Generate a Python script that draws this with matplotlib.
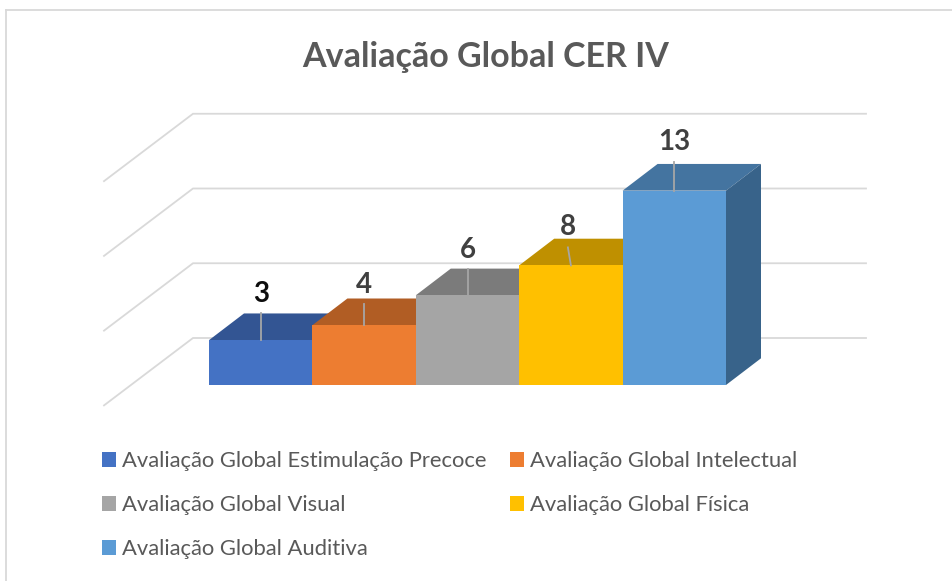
import matplotlib
matplotlib.use("Agg")
import matplotlib.pyplot as plt
from matplotlib.lines import Line2D

plt.rcParams['font.family'] = ['Lato', 'DejaVu Sans']

title = "Avaliação Global CER IV"
categories = ["Avaliação Global Estimulação Precoce", "Avaliação Global Intelectual",
              "Avaliação Global Visual", "Avaliação Global Física", "Avaliação Global Auditiva"]
values = [3, 4, 6, 8, 13]
value_labels = ["3", "4", "6", "8", "13"]
front_colors = ["#4472C4", "#ED7D31", "#A5A5A5", "#FFC000", "#5B9BD5"]
top_colors = ["#335593", "#B15D24", "#7B7B7B", "#BF9000", "#4474A0"]
side_colors = ["#2A4679", "#924D1E", "#666666", "#9E7700", "#38638A"]
label_colors = ["#0D0D0D", "#404040", "#404040", "#404040", "#404040"]
gridlines = [0, 5, 10, 15]

W, H = 953, 581
PX_X, PX_Y = 103.4, 14.95   # pixels per bar slot / per value unit
X0, Y0 = 209, 385           # pixel position of the front-left bar base

fig = plt.figure(figsize=(W / 100, H / 100), dpi=100)
ax = fig.add_axes([0, 0, 1, 1])
ax.set_xlim(-X0 / PX_X, (W - X0) / PX_X)
ax.set_ylim((Y0 - H) / PX_Y, Y0 / PX_Y)
ax.axis("off")

# depth of the bars and the walls, in data units
dx_bar, dy_bar = 35 / PX_X, 26.7 / PX_Y
wall_back_x = (193 - X0) / PX_X
wall_front_x = (104 - X0) / PX_X
wall_right_x = (866 - X0) / PX_X
wall_back_y = (Y0 - 338) / PX_Y
wall_front_y = (Y0 - 405.4) / PX_Y

grid_c = "#D9D9D9"
for g in gridlines:
    ax.plot([wall_front_x, wall_back_x, wall_right_x],
            [wall_front_y + g, wall_back_y + g, wall_back_y + g],
            color=grid_c, lw=1.3, zorder=1, solid_joinstyle="miter")

# bars
bars = []
for i, (v, cat) in enumerate(zip(values, categories)):
    z = 3 + i
    b = ax.bar(i, v, width=1.0, align="edge", color=front_colors[i], label=cat,
               zorder=z + 0.5, linewidth=0)
    bars.append(b)
    ax.fill([i, i + dx_bar, i + 1 + dx_bar, i + 1],
            [v, v + dy_bar, v + dy_bar, v], color=top_colors[i], lw=0, zorder=z)
    ax.fill([i + 1, i + 1 + dx_bar, i + 1 + dx_bar, i + 1],
            [0, dy_bar, v + dy_bar, v], color=side_colors[i], lw=0, zorder=z)

# data labels with leader lines (pixel offsets from bar top)
label_rise = [46, 40, 45, 38, 49]
leader_rise = [27, 21, 26, 18, 29]
label_dx = [0, 0, 0, -3, 0]
for i, v in enumerate(values):
    c = i + 0.5
    ax.plot([c, c + label_dx[i] / PX_X], [v, v + leader_rise[i] / PX_Y],
            color="#A6A6A6", lw=1.3, zorder=20)
    ax.text(c + label_dx[i] / PX_X, v + label_rise[i] / PX_Y, value_labels[i],
            ha="center", va="center", fontsize=20, fontweight="bold",
            color=label_colors[i], zorder=21)

# title
ax.text((486 - X0) / PX_X, (Y0 - 57) / PX_Y, title, ha="center", va="center",
        fontsize=24.5, fontweight="bold", color="#595959")

# legend: two columns, filled top-down
order = [0, 2, 4, 1, 3]
leg = ax.legend([bars[k][0] for k in order], [categories[k] for k in order],
                ncol=2, loc="upper left", bbox_to_anchor=(98 / W, 1 - 447 / H),
                bbox_transform=fig.transFigure, frameon=False, fontsize=15.8,
                labelcolor="#595959", handlelength=0.64, handleheight=0.64,
                handletextpad=0.27, columnspacing=1.05, labelspacing=1.09,
                borderpad=0.2, borderaxespad=0)

# chart border
for xs, ys in [((6 / W, 6 / W), (0, 1 - 9.5 / H)), ((6 / W, 1), (1 - 9.5 / H, 1 - 9.5 / H))]:
    fig.add_artist(Line2D(xs, ys, color="#D9D9D9", lw=1.3))

fig.savefig("out.png", dpi=100)
